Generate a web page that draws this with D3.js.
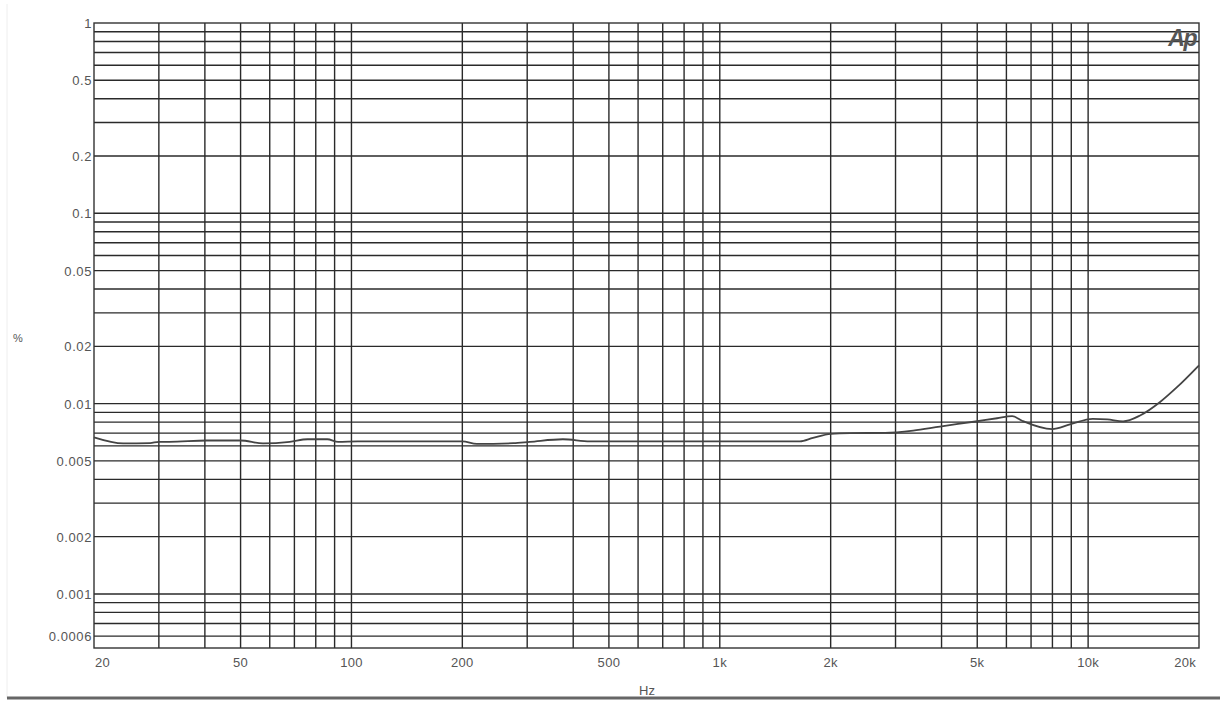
<!DOCTYPE html>
<html>
<head>
<meta charset="utf-8">
<script src="https://cdn.jsdelivr.net/npm/d3@7"></script>
<style>
  html, body { margin: 0; padding: 0; background: #fff; }
  svg { display: block; }
  text { font-family: "Liberation Sans", Arial, sans-serif; fill: #555; }
</style>
</head>
<body>
<svg id="chart" width="1220" height="701"></svg>
<script>
// ---- data ----
const freqs = [20, 24, 28.4, 30, 32, 40.5, 50, 57.5, 68, 76, 86, 92, 104, 200, 219, 275, 305, 375, 444, 1650,
               1790, 2000, 2260, 2810, 3350, 3960, 5000, 5660, 6220, 6620, 7980, 8930, 10300, 11270, 12440,
               13840, 15680, 17430, 20000];
const thd = [0.00665, 0.00618, 0.0062, 0.0063, 0.0063, 0.0064, 0.0064, 0.00618, 0.0063, 0.0065,
             0.0065, 0.0063, 0.00633, 0.00633, 0.00614, 0.0062, 0.0063, 0.0065, 0.00633, 0.00633,
             0.0066, 0.00693, 0.0070, 0.00702, 0.00722, 0.00758, 0.00808, 0.00838, 0.00859, 0.00813,
             0.00735, 0.00778, 0.00832, 0.00826, 0.00806, 0.00866, 0.0102, 0.0122, 0.0159];
const xTickValues = [20, 50, 100, 200, 500, 1000, 2000, 5000, 10000, 20000];
const xTickLabels = ["20", "50", "100", "200", "500", "1k", "2k", "5k", "10k", "20k"];
const yTickValues = [1, 0.5, 0.2, 0.1, 0.05, 0.02, 0.01, 0.005, 0.002, 0.001, 0.0006];
const yTickLabels = ["1", "0.5", "0.2", "0.1", "0.05", "0.02", "0.01", "0.005", "0.002", "0.001", "0.0006"];
const xDomain = [20, 20000];
const yDomain = [0.00052, 1];

// ---- layout ----
const L = 94, R = 1199, T = 23, B = 648;
const svg = d3.select("#chart");
const x = d3.scaleLog().domain(xDomain).range([L, R]);
const y = d3.scaleLog().domain(yDomain).range([B, T]);

// faint page border
svg.append("line").attr("x1", 7).attr("x2", 7).attr("y1", 4).attr("y2", 698)
   .attr("stroke", "#eee").attr("stroke-width", 1);

// grid: minor multiples of each decade
function decadeMultiples(lo, hi) {
  const out = [];
  for (let e = Math.floor(Math.log10(lo)) - 1; e <= Math.ceil(Math.log10(hi)); e++) {
    for (let m = 1; m <= 9; m++) {
      const v = m * Math.pow(10, e);
      if (v > lo * 1.0001 && v < hi * 0.9999) out.push(v);
    }
  }
  return out;
}
const g = svg.append("g");
g.selectAll("line.vx").data(decadeMultiples(xDomain[0], xDomain[1])).enter().append("line")
  .attr("x1", d => x(d)).attr("x2", d => x(d)).attr("y1", T).attr("y2", B)
  .attr("stroke", "#2a2a2a").attr("stroke-width", 1.4);
g.selectAll("line.hy").data(decadeMultiples(yDomain[0], yDomain[1])).enter().append("line")
  .attr("y1", d => y(d)).attr("y2", d => y(d)).attr("x1", L).attr("x2", R)
  .attr("stroke", "#2a2a2a").attr("stroke-width", 1.4);

// frame
svg.append("rect").attr("x", L).attr("y", T).attr("width", R - L).attr("height", B - T)
   .attr("fill", "none").attr("stroke", "#333").attr("stroke-width", 1.4);

// data line
const line = d3.line().x((d, i) => x(freqs[i])).y(d => y(d)).curve(d3.curveMonotoneX);
svg.append("path").datum(thd).attr("d", line)
   .attr("fill", "none").attr("stroke", "#444").attr("stroke-width", 1.8);

// y labels
svg.selectAll("text.yl").data(yTickValues).enter().append("text")
  .attr("x", 92).attr("y", d => y(d) + 5).attr("text-anchor", "end")
  .attr("font-size", 13).attr("letter-spacing", 0.6)
  .text((d, i) => yTickLabels[i]);

// x labels
svg.selectAll("text.xl").data(xTickValues).enter().append("text")
  .attr("x", (d, i) => i === 0 ? x(d) + 1 : (i === xTickValues.length - 1 ? x(d) - 3 : x(d)))
  .attr("y", 667)
  .attr("text-anchor", (d, i) => i === 0 ? "start" : (i === xTickValues.length - 1 ? "end" : "middle"))
  .attr("font-size", 13).attr("letter-spacing", 0.3)
  .text((d, i) => xTickLabels[i]);

// axis titles
svg.append("text").attr("x", 647).attr("y", 695).attr("text-anchor", "middle")
   .attr("font-size", 13).text("Hz");
svg.append("text").attr("x", 18).attr("y", 342).attr("text-anchor", "middle")
   .attr("font-size", 11).text("%");

// Ap logo
svg.append("text").attr("x", 1196).attr("y", 46).attr("text-anchor", "end")
   .attr("font-size", 23).attr("font-style", "italic").attr("font-weight", "bold")
   .attr("letter-spacing", -1.5).style("fill", "#555").text("Ap");

// bottom rule
svg.append("line").attr("x1", 7).attr("x2", 1220).attr("y1", 698).attr("y2", 698)
   .attr("stroke", "#666").attr("stroke-width", 3);
</script>
</body>
</html>
